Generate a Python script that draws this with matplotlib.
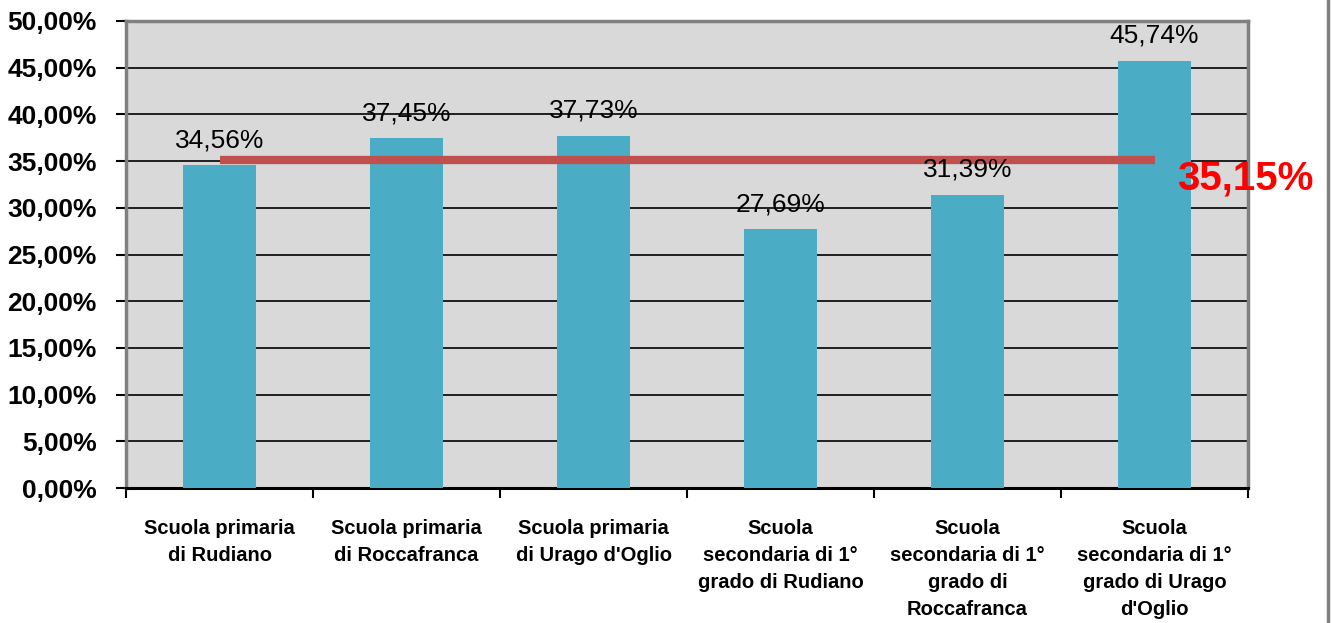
import matplotlib
matplotlib.use("Agg")
import matplotlib.pyplot as plt
from matplotlib.lines import Line2D

plt.rcParams['font.family'] = ['Liberation Sans', 'DejaVu Sans']

categories = [
    "Scuola primaria\ndi Rudiano",
    "Scuola primaria\ndi Roccafranca",
    "Scuola primaria\ndi Urago d'Oglio",
    "Scuola\nsecondaria di 1°\ngrado di Rudiano",
    "Scuola\nsecondaria di 1°\ngrado di\nRoccafranca",
    "Scuola\nsecondaria di 1°\ngrado di Urago\nd'Oglio",
]
values = [34.56, 37.45, 37.73, 27.69, 31.39, 45.74]
average = 35.15
yticks = [0, 5, 10, 15, 20, 25, 30, 35, 40, 45, 50]

def fmt(v):
    return f"{v:.2f}".replace(".", ",") + "%"

W, H = 1331, 623
fig = plt.figure(figsize=(W / 100, H / 100), dpi=100)
ax = fig.add_axes([126 / W, 135 / H, (1248 - 126) / W, (488 - 21) / H])
ax.set_facecolor('#D9D9D9')

x = list(range(len(categories)))
ax.bar(x, values, width=0.39, color='#4BACC6', zorder=3)
ax.plot([x[0], x[-1]], [average, average], color='#C0504D', lw=6,
        solid_capstyle='butt', zorder=4)

for xi, v in zip(x, values):
    ax.annotate(fmt(v), (xi, v), xytext=(0, 13), textcoords='offset points',
                ha='center', va='baseline', fontsize=19, color='black', zorder=5)

ax.text(1177 / W, (H - 178) / H, fmt(average), transform=fig.transFigure,
        ha='left', va='center', fontsize=29, fontweight='bold', color='#FF0000',
        zorder=6)

ax.set_xlim(-0.5, len(categories) - 0.5)
ax.set_ylim(0, 50)
ax.set_yticks(yticks)
ax.set_yticklabels([fmt(t) for t in yticks], fontsize=19, fontweight='bold')
ax.yaxis.grid(True, color='black', lw=1.2, zorder=1)
ax.set_axisbelow(True)

ax.set_xticks([i - 0.5 for i in range(len(categories) + 1)])
ax.set_xticklabels([])
ax.set_xticks(x, minor=True)
ax.set_xticklabels(categories, minor=True, fontsize=14.5, fontweight='bold',
                   linespacing=1.55, va='top')
ax.tick_params(axis='x', which='minor', length=0, pad=22)
ax.tick_params(axis='x', which='major', length=7, width=1.5, direction='out')
ax.tick_params(axis='y', length=7, width=1.5, pad=14)

for side in ['top', 'right', 'left']:
    ax.spines[side].set_color('#808080')
    ax.spines[side].set_linewidth(2.5)
ax.spines['bottom'].set_color('black')
ax.spines['bottom'].set_linewidth(2.2)

fig.add_artist(Line2D([1327.5 / W, 1327.5 / W], [0, 1], transform=fig.transFigure,
                      color='#808080', lw=2.5))

fig.savefig('out.png', dpi=100)
